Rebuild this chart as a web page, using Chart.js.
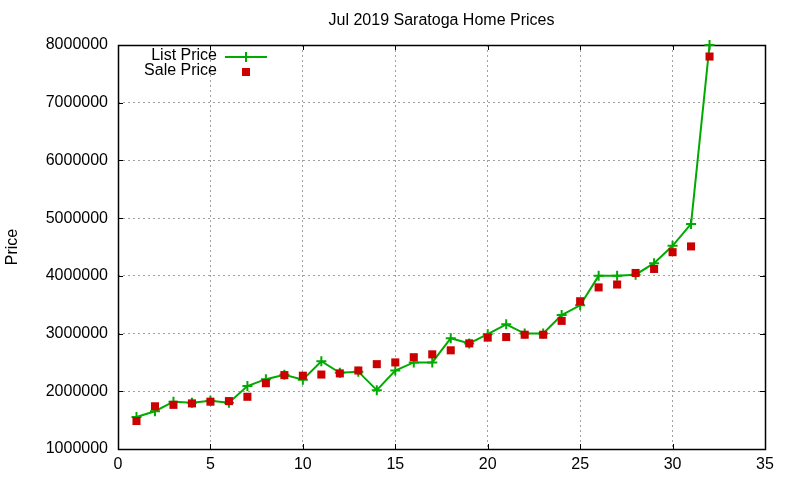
<!DOCTYPE html>
<html lang="en">

<head>
    <meta charset="UTF-8">
    <title>Jul 2019 Saratoga Home Prices</title>
    <script src="https://cdn.jsdelivr.net/npm/chart.js"></script>
    <style>
        body {
            margin: 0;
            background: #ffffff;
        }

        .chart-container {
            width: 800px;
            height: 480px;
        }
    </style>
</head>

<body>

    <div class="chart-container">
        <canvas id="priceChart" width="800" height="480"></canvas>
    </div>

    <script>
        // Home index (x axis) and prices
        const homes = [1, 2, 3, 4, 5, 6, 7, 8, 9, 10, 11, 12, 13, 14, 15, 16,
            17, 18, 19, 20, 21, 22, 23, 24, 25, 26, 27, 28, 29, 30, 31, 32];
        const listPrices = [1555000, 1655000, 1820000, 1800000, 1835000, 1800000, 2090000, 2210000,
            2285000, 2200000, 2520000, 2320000, 2340000, 2020000, 2360000, 2500000,
            2500000, 2920000, 2830000, 2990000, 3160000, 3000000, 3000000, 3320000,
            3490000, 4000000, 4000000, 4020000, 4220000, 4520000, 4900000, 8000000];
        const salePrices = [1485000, 1740000, 1765000, 1790000, 1820000, 1830000, 1905000, 2140000,
            2280000, 2270000, 2290000, 2310000, 2360000, 2470000, 2500000, 2590000,
            2640000, 2710000, 2830000, 2930000, 2940000, 2980000, 2980000, 3220000,
            3560000, 3800000, 3850000, 4050000, 4120000, 4410000, 4510000, 7800000];
        const xTicks = [0, 5, 10, 15, 20, 25, 30, 35];
        const yTicks = [1000000, 2000000, 3000000, 4000000, 5000000, 6000000, 7000000, 8000000];

        const GREEN = '#00aa00';
        const RED = '#cc0000';

        Chart.defaults.font.family = '"Liberation Sans", Arial, sans-serif';
        Chart.defaults.font.size = 16;
        Chart.defaults.color = '#000000';

        // gnuplot style frame: box, inward ticks, title and key
        const gnuplotFrame = {
            id: 'gnuplotFrame',
            beforeDatasetsDraw(chart) {
                const ctx = chart.ctx;
                const a = chart.chartArea;
                const xs = chart.scales.x, ys = chart.scales.y;
                ctx.save();
                ctx.strokeStyle = '#000000';
                ctx.lineWidth = 1;
                ctx.beginPath();
                xTicks.forEach(v => {
                    const px = Math.round(xs.getPixelForValue(v)) + 0.5;
                    ctx.moveTo(px, a.bottom); ctx.lineTo(px, a.bottom - 5);
                    ctx.moveTo(px, a.top); ctx.lineTo(px, a.top + 5);
                });
                yTicks.forEach(v => {
                    const py = Math.round(ys.getPixelForValue(v)) + 0.5;
                    ctx.moveTo(a.left, py); ctx.lineTo(a.left + 5, py);
                    ctx.moveTo(a.right, py); ctx.lineTo(a.right - 5, py);
                });
                ctx.stroke();
                ctx.lineWidth = 1.5;
                ctx.strokeRect(Math.round(a.left) + 0.5, Math.round(a.top) + 0.5,
                    Math.round(a.right - a.left), Math.round(a.bottom - a.top));
                ctx.restore();
            },
            afterDraw(chart) {
                const ctx = chart.ctx;
                const a = chart.chartArea;
                ctx.save();
                // title
                ctx.fillStyle = '#000000';
                ctx.font = '16px "Liberation Sans", Arial, sans-serif';
                ctx.textAlign = 'center';
                ctx.textBaseline = 'middle';
                ctx.fillText('Jul 2019 Saratoga Home Prices', (a.left + a.right) / 2, 21);

                // key
                ctx.textAlign = 'right';
                ctx.fillText('List Price', 217, 56);
                ctx.fillText('Sale Price', 217, 71);
                ctx.strokeStyle = GREEN;
                ctx.lineWidth = 2;
                ctx.beginPath();
                ctx.moveTo(225, 57); ctx.lineTo(267, 57);
                ctx.moveTo(246, 52); ctx.lineTo(246, 62);
                ctx.stroke();
                ctx.fillStyle = RED;
                ctx.fillRect(242, 68, 8, 8);
                ctx.restore();
            }
        };

        new Chart(document.getElementById('priceChart'), {
            type: 'line',
            data: {
                datasets: [{
                    label: 'List Price',
                    data: homes.map((h, i) => ({ x: h, y: listPrices[i] })),
                    borderColor: GREEN,
                    backgroundColor: GREEN,
                    borderWidth: 2,
                    pointStyle: 'cross',
                    pointRadius: 5,
                    pointBorderWidth: 2,
                    tension: 0,
                    clip: false,
                    order: 2
                }, {
                    label: 'Sale Price',
                    data: homes.map((h, i) => ({ x: h, y: salePrices[i] })),
                    showLine: false,
                    borderColor: RED,
                    backgroundColor: RED,
                    pointStyle: 'rect',
                    pointRadius: 5.7,
                    pointBorderWidth: 0,
                    clip: false,
                    order: 1
                }]
            },
            options: {
                responsive: false,
                animation: false,
                devicePixelRatio: 1,
                layout: {
                    padding: { top: 45, right: 35, left: 0, bottom: 0 }
                },
                plugins: {
                    legend: { display: false },
                    title: { display: false },
                    tooltip: { enabled: false }
                },
                scales: {
                    x: {
                        type: 'linear',
                        min: 0,
                        max: 35,
                        afterFit: s => { s.height = 31; },
                        afterBuildTicks: s => { s.ticks = xTicks.map(v => ({ value: v })); },
                        ticks: { padding: 6, maxRotation: 0 },
                        grid: { color: '#a0a0a0', drawTicks: false, lineWidth: 1 },
                        border: { display: false, dash: [2, 3] }
                    },
                    y: {
                        type: 'linear',
                        min: 1000000,
                        max: 8000000,
                        afterFit: s => { s.width = 118; },
                        afterBuildTicks: s => { s.ticks = yTicks.map(v => ({ value: v })); },
                        ticks: { padding: 10, callback: v => String(v) },
                        grid: { color: '#a0a0a0', drawTicks: false, lineWidth: 1 },
                        border: { display: false, dash: [2, 3] },
                        title: { display: true, text: 'Price', padding: { top: 3, bottom: 0 } }
                    }
                }
            },
            plugins: [gnuplotFrame]
        });
    </script>
</body>

</html>
